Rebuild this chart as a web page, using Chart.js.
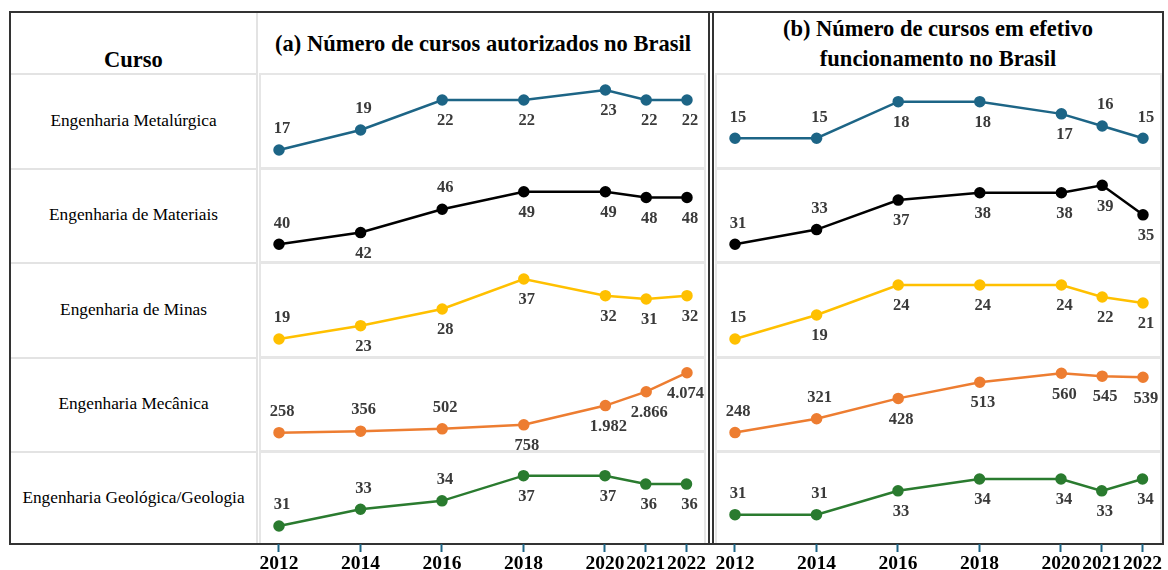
<!DOCTYPE html>
<html>
<head>
<meta charset="utf-8">
<script src="https://cdn.jsdelivr.net/npm/chart.js@4.4.1/dist/chart.umd.min.js"></script>
<style>
  html, body { margin: 0; padding: 0; background: #fff; }
  body { width: 1168px; height: 570px; position: relative; overflow: hidden; font-family: "Liberation Serif", "DejaVu Serif", serif; }
  .dark { position: absolute; background: #333; }
  .light { position: absolute; background: #e3e3e3; }
  .cell { position: absolute; border: 2px solid #e6e6e6; box-sizing: border-box; }
  .txt { position: absolute; text-align: center; color: #000; white-space: nowrap; }
  .head { font-weight: bold; font-size: 22.5px; line-height: 30px; }
  .curso { font-size: 17.3px; left: 11px; width: 245px; }
  canvas { position: absolute; }
</style>
</head>
<body>
<div id="frame"></div>
<script>
/***************************************
 * Data
 ***************************************/
const years = [2012, 2014, 2016, 2018, 2020, 2021, 2022];
const cursos = ['Engenharia Metalúrgica', 'Engenharia de Materiais', 'Engenharia de Minas',
                'Engenharia Mecânica', 'Engenharia Geológica/Geologia'];

// (a) cursos autorizados
const metalurgicaAut = [17, 19, 22, 22, 23, 22, 22];
const materiaisAut   = [40, 42, 46, 49, 49, 48, 48];
const minasAut       = [19, 23, 28, 37, 32, 31, 32];
const mecanicaAut    = [258, 356, 502, 758, 1982, 2866, 4074];
const geologiaAut    = [31, 33, 34, 37, 37, 36, 36];

// (b) cursos em efetivo funcionamento
const metalurgicaFunc = [15, 15, 18, 18, 17, 16, 15];
const materiaisFunc   = [31, 33, 37, 38, 38, 39, 35];
const minasFunc       = [15, 19, 24, 24, 24, 22, 21];
const mecanicaFunc    = [248, 321, 428, 513, 560, 545, 539];
const geologiaFunc    = [31, 31, 33, 34, 34, 33, 34];

const seriesA = [metalurgicaAut, materiaisAut, minasAut, mecanicaAut, geologiaAut];
const seriesB = [metalurgicaFunc, materiaisFunc, minasFunc, mecanicaFunc, geologiaFunc];

/***************************************
 * Styling / layout
 ***************************************/
const lineColors = ['#1d6586', '#000000', '#ffc000', '#ed7d31', '#2a7b2f'];
const rowTops = [73, 168, 262, 357, 451];
const rowHeights = [95, 94, 95, 94, 93];

// y ranges per cell [min, max]
const rangesA = [[15.2, 24.7], [36.96, 53.06], [13.6, 42.1], [-907, 5073], [28.86, 39.94]];
const rangesB = [[12.56, 20.35], [28.6, 41.35], [12.0, 27.83], [151.1, 645.8], [28.53, 36.35]];

// label side per point: 'a' above, 'b' below
const sidesA = [
  ['a', 'a', 'b', 'b', 'b', 'b', 'b'],
  ['a', 'b', 'a', 'b', 'b', 'b', 'b'],
  ['a', 'b', 'b', 'b', 'b', 'b', 'b'],
  ['a', 'a', 'a', 'b', 'b', 'b', 'b'],
  ['a', 'a', 'a', 'b', 'b', 'b', 'b']
];
const sidesB = [
  ['a', 'a', 'b', 'b', 'b', 'a', 'a'],
  ['a', 'a', 'b', 'b', 'b', 'b', 'b'],
  ['a', 'b', 'b', 'b', 'b', 'b', 'b'],
  ['a', 'a', 'b', 'b', 'b', 'b', 'b'],
  ['a', 'a', 'b', 'b', 'b', 'b', 'b']
];

/***************************************
 * Frame (table borders and text)
 ***************************************/
const frame = document.getElementById('frame');
function addDiv(cls, l, t, w, h, html) {
  const d = document.createElement('div');
  d.className = cls;
  d.style.left = l + 'px';
  d.style.top = t + 'px';
  if (w != null) d.style.width = w + 'px';
  if (h != null) d.style.height = h + 'px';
  if (html) d.innerHTML = html;
  frame.appendChild(d);
  return d;
}

// light grid of the left column
addDiv('light', 256, 13, 2, 530);
rowTops.forEach(t => addDiv('light', 11, t, 245, 2));

// cell boxes
rowTops.forEach((t, i) => {
  addDiv('cell', 259, t, 447, rowHeights[i] + 1);
  addDiv('cell', 715, t, 447, rowHeights[i] + 1);
});

// dark outer borders + double separator
addDiv('dark', 9, 11, 1155, 2);
addDiv('dark', 9, 543, 1155, 2);
addDiv('dark', 9, 11, 2, 534);
addDiv('dark', 1162, 11, 2, 534);
addDiv('dark', 708, 11, 2, 534);
addDiv('dark', 712, 11, 2, 534);

// headers
addDiv('txt head', 11, 45, 245, null, 'Curso');
addDiv('txt head', 258, 29, 450, null, '(a) Número de cursos autorizados no Brasil');
addDiv('txt head', 714, 14, 448, null, '(b) Número de cursos em efetivo<br>funcionamento no Brasil');

// course names
cursos.forEach((c, i) => {
  const d = addDiv('txt curso', 11, rowTops[i] + rowHeights[i] / 2 - 10, null, null, c);
  d.style.lineHeight = '20px';
});

/***************************************
 * Charts
 ***************************************/
function fmt(n) {
  return String(n).replace(/\B(?=(\d{3})+(?!\d))/g, '.');
}

const pointLabels = {
  id: 'pointLabels',
  afterDatasetsDraw(chart, args, opts) {
    const ctx = chart.ctx;
    const meta = chart.getDatasetMeta(0);
    const ds = chart.data.datasets[0];
    const right = chart.chartArea.right;
    ctx.save();
    ctx.font = 'bold 16.5px "Liberation Serif"';
    ctx.fillStyle = opts.color;
    ctx.textAlign = 'center';
    ctx.textBaseline = 'middle';
    meta.data.forEach((pt, i) => {
      const text = fmt(ds.data[i].y);
      const half = ctx.measureText(text).width / 2;
      const dy = opts.side[i] === 'a' ? -21 : 21;
      // keep the label inside the cell
      const x = Math.min(pt.x + 3, right - half - 2);
      ctx.fillText(text, x, pt.y + dy);
    });
    ctx.restore();
  }
};

function makeChart(left, row, values, range, side, color) {
  const isBottom = row === rowTops.length - 1;
  const canvas = document.createElement('canvas');
  canvas.width = 448;
  canvas.height = rowHeights[row] + (isBottom ? 26 : 0);
  canvas.style.left = left + 'px';
  canvas.style.top = rowTops[row] + 'px';
  document.body.appendChild(canvas);

  const xScale = {
    type: 'linear',
    min: 2011.485,
    max: 2022.466,
    display: isBottom,
    afterBuildTicks: axis => { axis.ticks = years.map(v => ({ value: v })); },
    border: { display: false },
    grid: {
      drawOnChartArea: false,
      drawTicks: true,
      tickLength: 8,
      tickColor: '#1d6586',
      tickWidth: 2
    },
    ticks: {
      autoSkip: false,
      maxRotation: 0,
      padding: 0,
      color: '#000',
      font: { family: 'Liberation Serif', size: 19.5, weight: 'bold' },
      callback: v => String(v)
    }
  };
  // bottom row carries the year axis below the chart area
  if (isBottom) xScale.afterFit = axis => { axis.height = 26; };

  return new Chart(canvas.getContext('2d'), {
    type: 'line',
    data: {
      datasets: [{
        data: values.map((v, i) => ({ x: years[i], y: v })),
        borderColor: color,
        backgroundColor: color,
        borderWidth: 2.5,
        pointRadius: 4.5,
        pointHoverRadius: 4.5,
        tension: 0,
        clip: false
      }]
    },
    options: {
      responsive: false,
      animation: false,
      layout: { padding: 0, autoPadding: false },
      plugins: {
        legend: { display: false },
        tooltip: { enabled: false },
        pointLabels: { side: side, color: '#3a3a3a' }
      },
      scales: {
        x: xScale,
        y: {
          display: false,
          min: range[0],
          max: range[1]
        }
      }
    },
    plugins: [pointLabels]
  });
}

seriesA.forEach((vals, r) => makeChart(258, r, vals, rangesA[r], sidesA[r], lineColors[r]));
seriesB.forEach((vals, r) => makeChart(714, r, vals, rangesB[r], sidesB[r], lineColors[r]));
</script>
</body>
</html>
